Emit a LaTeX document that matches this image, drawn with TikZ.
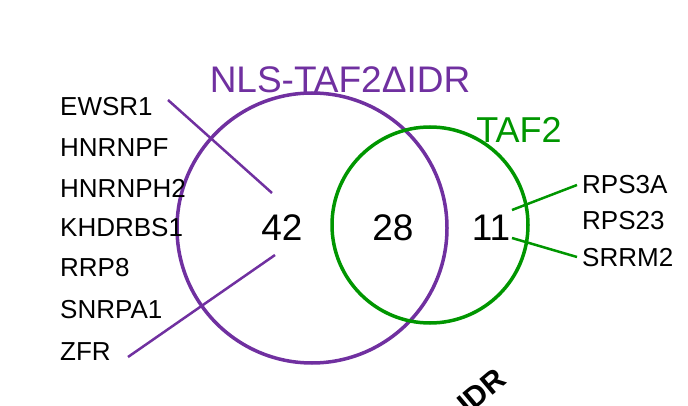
\documentclass[tikz,border=0pt]{standalone}
\usepackage{fontspec}
\setmainfont{Liberation Sans}
\definecolor{pur}{RGB}{112,48,160}
\definecolor{grn}{RGB}{0,150,0}
\begin{document}
\begin{tikzpicture}[x=1pt,y=-1pt,
  gene/.style={anchor=west,font=\fontsize{26}{28}\selectfont,inner sep=0},
  num/.style={font=\fontsize{37}{39}\selectfont,inner sep=0}]
\useasboundingbox (0,0) rectangle (688,406);
\begin{scope}
\clip (0,0) rectangle (688,406);
\draw[pur,line width=3.5pt] (312,228) circle[radius=135];
\draw[grn,line width=3.5pt] (430,225) circle[radius=98];
\node[pur,font=\fontsize{37}{39}\selectfont] (t1) at (340,80) {NLS-TAF2ΔIDR};
\node[grn,font=\fontsize{36}{38}\selectfont] (t2) at (519,130) {TAF2};
\node[num] (n42) at (282,228) {42};
\node[num] (n28) at (393,228) {28};
\node[num] (n11) at (491,228) {11};
\foreach \t/\y [count=\i] in {EWSR1/107,HNRNPF/148,HNRNPH2/188,KHDRBS1/228,RRP8/268,SNRPA1/310,ZFR/352}
  \node[gene] (L\i) at (60,\y) {\t};
\foreach \t/\y [count=\i] in {RPS3A/185,RPS23/221,SRRM2/258}
  \node[gene] (R\i) at (582,\y) {\t};
\coordinate (a1) at (272,193); \coordinate (a2) at (275,255);
\coordinate (b1) at (512,210); \coordinate (b2) at (512,238);
\coordinate (l1) at (168,100); \coordinate (l7) at (128,357);
\coordinate (r1) at (577,185); \coordinate (r3) at (577,257);
\draw[pur,line width=2.5pt] (l1) -- (a1);
\draw[pur,line width=2.5pt] (l7) -- (a2);
\draw[grn,line width=2.5pt] (r1) -- (b1);
\draw[grn,line width=2.5pt] (r3) -- (b2);
\node[rotate=40,font=\bfseries\fontsize{30}{32}\selectfont,anchor=south west,inner sep=0] (idr) at (468,416) {IDR};
\end{scope}
\end{tikzpicture}
\end{document}
